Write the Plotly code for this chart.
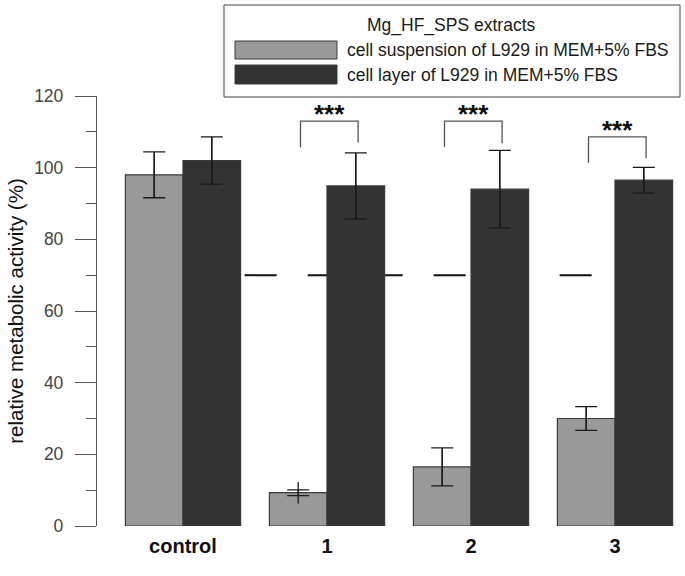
import plotly.graph_objects as go

# ---- data ----
categories = ["control", "1", "2", "3"]
series_names = ["cell suspension of L929 in MEM+5% FBS", "cell layer of L929 in MEM+5% FBS"]
legend_title = "Mg_HF_SPS extracts"
suspension = [98.0, 9.3, 16.5, 30.0]
suspension_sd = [6.4, 3.0, 5.3, 3.3]
suspension_cap = [6.4, 0.8, 5.3, 3.3]
layer = [102.0, 94.9, 94.0, 96.5]
layer_sd = [6.6, 9.2, 10.8, 3.6]
threshold = 70
sig_labels = ["", "***", "***", "***"]
bracket_top = [None, 113.0, 113.0, 108.6]
bracket_left_bottom = [None, 105.6, 105.8, 101.4]
bracket_right_bottom = [None, 107.0, 106.8, 102.6]
yticks = [0, 20, 40, 60, 80, 100, 120]
ytitle = "relative metabolic activity (%)"

# ---- geometry helpers ----
W, H = 685, 576
L, R, T, B = 97, 0, 96, 50
pw, ph = W - L - R, H - T - B
def xp(px):
    return (px - L) / pw
def yp(py):
    return (H - B - py) / ph

group_pitch = 2.5
centers = [i * group_pitch for i in range(len(categories))]
x_sus = [c - 0.5 for c in centers]
x_lay = [c + 0.5 for c in centers]

GRAY = "#999999"
DARK = "#333333"
EDGE = "#3a3a3a"
ERR = "#1a1a1a"
FONT = "Liberation Sans, Arial, sans-serif"

fig = go.Figure()
fig.add_trace(go.Bar(x=x_sus, y=suspension, width=1, name=series_names[0],
                     marker=dict(color=GRAY, line=dict(color=EDGE, width=1.2)),
                     showlegend=False))
fig.add_trace(go.Bar(x=x_lay, y=layer, width=1, name=series_names[1],
                     marker=dict(color=DARK, line=dict(color=EDGE, width=1.2)),
                     showlegend=False))

# error bars: vertical stems
fig.add_trace(go.Scatter(x=x_sus + x_lay, y=suspension + layer, mode="markers",
                         marker=dict(size=0.1, color="rgba(0,0,0,0)"),
                         error_y=dict(type="data", array=suspension_sd + layer_sd,
                                      color=ERR, thickness=1.3, width=0),
                         showlegend=False, hoverinfo="skip"))
# error bars: caps
fig.add_trace(go.Scatter(x=x_sus + x_lay, y=suspension + layer, mode="markers",
                         marker=dict(size=0.1, color="rgba(0,0,0,0)"),
                         error_y=dict(type="data", array=suspension_cap + layer_sd,
                                      color=ERR, thickness=1.3, width=11),
                         showlegend=False, hoverinfo="skip"))

shapes = []
# dashed threshold line behind bars
shapes.append(dict(type="line", xref="x", yref="y", x0=x_lay[0] + 0.5 + 0.07, x1=x_lay[-1] + 1.2,
                   y0=threshold, y1=threshold, layer="below",
                   line=dict(color="#111111", width=2, dash="32px,31px")))

annotations = []
for i, lab in enumerate(sig_labels):
    if not lab:
        continue
    xl, xr = x_sus[i] + 0.04, x_lay[i] + 0.04
    shapes.append(dict(type="path", xref="x", yref="y",
                       path=f"M {xl},{bracket_left_bottom[i]} L {xl},{bracket_top[i]} L {xr},{bracket_top[i]} L {xr},{bracket_right_bottom[i]}",
                       line=dict(color="#555555", width=1.3)))
    annotations.append(dict(x=(xl + xr) / 2, y=bracket_top[i], xref="x", yref="y",
                            text=f"<b>{lab}</b>", showarrow=False, yanchor="bottom", yshift=-10,
                            font=dict(family=FONT, size=26, color="#111111")))

# manual legend
shapes.append(dict(type="rect", xref="paper", yref="paper", x0=xp(224), x1=xp(680), y0=yp(97), y1=yp(5),
                   line=dict(color="#444444", width=1), fillcolor="white", layer="above"))
shapes.append(dict(type="rect", xref="paper", yref="paper", x0=xp(235), x1=xp(337), y0=yp(59), y1=yp(41),
                   line=dict(color=EDGE, width=1), fillcolor=GRAY))
shapes.append(dict(type="rect", xref="paper", yref="paper", x0=xp(235), x1=xp(337), y0=yp(84), y1=yp(65),
                   line=dict(color=EDGE, width=1), fillcolor=DARK))
annotations.append(dict(x=xp(452), y=yp(25), xref="paper", yref="paper", text=legend_title,
                        showarrow=False, xanchor="center", yanchor="middle",
                        font=dict(family=FONT, size=17.5, color="#1a1a1a")))
annotations.append(dict(x=xp(345), y=yp(50), xref="paper", yref="paper", text=series_names[0],
                        showarrow=False, xanchor="left", yanchor="middle",
                        font=dict(family=FONT, size=17.5, color="#1a1a1a")))
annotations.append(dict(x=xp(345), y=yp(75), xref="paper", yref="paper", text=series_names[1],
                        showarrow=False, xanchor="left", yanchor="middle",
                        font=dict(family=FONT, size=17.5, color="#1a1a1a")))

x_left = (L - (183)) / 57.6
x_right = x_left + pw / 57.6

fig.update_layout(
    width=W, height=H,
    margin=dict(l=L, r=R, t=T, b=B, autoexpand=False),
    paper_bgcolor="white", plot_bgcolor="white",
    barmode="overlay",
    shapes=shapes, annotations=annotations,
    xaxis=dict(range=[x_left, x_right], tickvals=centers, ticktext=[f"<b>{c}</b>" for c in categories],
               showline=False, showgrid=False, zeroline=False, ticks="",
               tickfont=dict(family=FONT, size=20, color="#111111"), ticklabelstandoff=6),
    yaxis=dict(range=[0, 120], tickvals=yticks, showline=True, linecolor="#555555", linewidth=1.3,
               ticks="outside", ticklen=21, tickwidth=1.3, tickcolor="#555555",
               minor=dict(dtick=10, tick0=0, ticks="outside", ticklen=10, tickwidth=1.3, tickcolor="#555555"),
               showgrid=False, zeroline=False,
               tickfont=dict(family=FONT, size=17.5, color="#444444"), ticklabelstandoff=8,
               title=dict(text=ytitle, font=dict(family=FONT, size=20.5, color="#111111"), standoff=4)),
)

fig.write_html("out.html", config={"displayModeBar": False},
               post_script="document.body.style.margin='0px';document.body.style.overflow='hidden';")
